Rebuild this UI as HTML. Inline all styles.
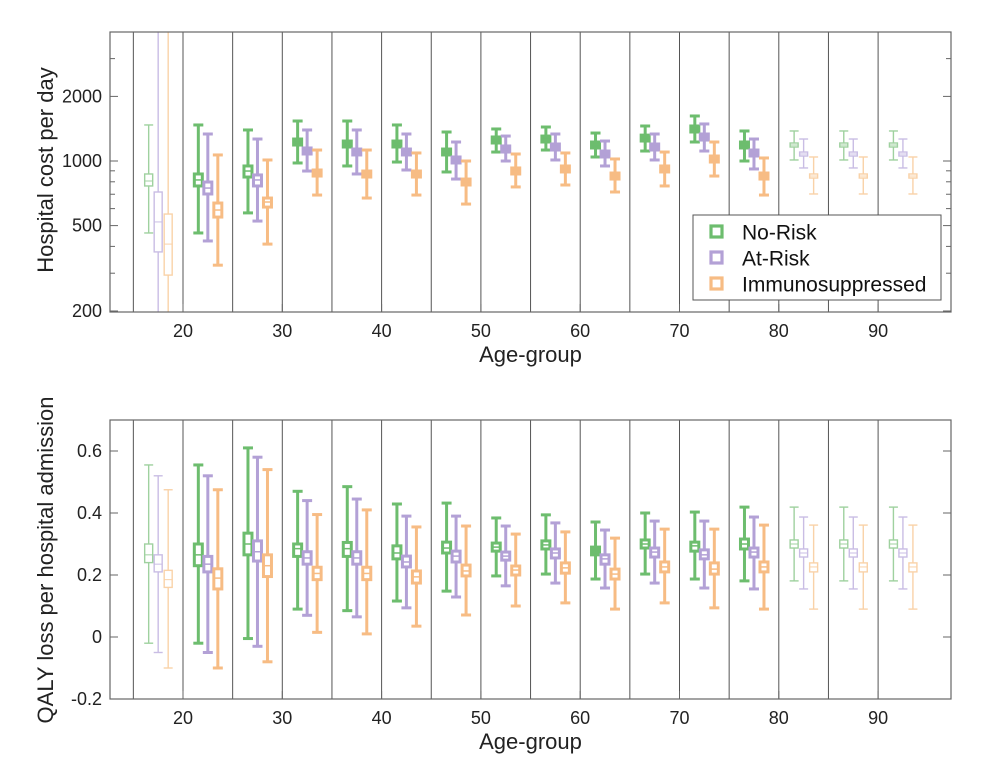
<!DOCTYPE html>
<html><head><meta charset="utf-8"><style>
html,body{margin:0;padding:0;background:#fff;}
svg{display:block;font-family:"Liberation Sans",Arial,sans-serif;}
</style></head><body>
<svg id="chart" width="991" height="779" viewBox="0 0 991 779" xmlns="http://www.w3.org/2000/svg"></svg>
<script>
// ---- data ----
const groupCenters=[17.5,22.5,27.5,32.5,37.5,42.5,47.5,52.5,57.5,62.5,67.5,72.5,77.5,82.5,87.5,92.5];
const thinGroups=[0,13,14,15];
const seriesNames=["No-Risk","At-Risk","Immunosuppressed"];
const xTicks=[20,30,40,50,60,70,80,90];
const costTicks=[200,500,1000,2000];
const qalyTicks=[-0.2,0,0.2,0.4,0.6];
// cost: [whiskerLow,q1,median,q3,whiskerHigh]
const costNoRisk=[[462,765,807,870,1472],[462,765,816,870,1472],[573,842,898,948,1395],[979,1187,1226,1266,1536],[948,1162,1200,1239,1536],[989,1162,1200,1239,1472],[889,1067,1101,1137,1365],[1101,1213,1252,1294,1410],[1125,1226,1266,1307,1440],[1044,1150,1187,1226,1350],[1113,1239,1280,1320,1456],[1226,1365,1410,1456,1621],[1000,1150,1187,1226,1380],[1011,1162,1187,1213,1380],[1011,1162,1187,1213,1380],[1011,1162,1187,1213,1380]];
const costAtRisk=[[150,377,520,717,5000],[424,702,748,798,1336],[525,765,816,861,1266],[898,1078,1113,1150,1395],[870,1067,1101,1137,1395],[908,1067,1101,1137,1336],[824,979,1011,1044,1226],[1000,1101,1137,1175,1307],[1011,1125,1162,1200,1336],[948,1044,1078,1113,1239],[1011,1125,1162,1200,1336],[1113,1252,1294,1336,1488],[918,1055,1090,1125,1266],[928,1055,1078,1101,1266],[928,1055,1078,1101,1266],[928,1055,1078,1101,1266]];
const costImmuno=[[150,294,410,566,5000],[327,548,591,637,1067],[410,610,644,672,1011],[694,851,879,908,1125],[672,842,870,898,1125],[694,842,870,898,1090],[630,773,798,824,1000],[757,870,898,928,1078],[773,889,918,948,1090],[717,824,851,879,1022],[765,889,918,948,1101],[851,989,1022,1055,1226],[694,824,851,879,1033],[702,833,851,870,1044],[702,833,851,870,1044],[702,833,851,870,1044]];
const qalyNoRisk=[[-0.02,0.24,0.265,0.30,0.555],[-0.02,0.23,0.265,0.30,0.555],[-0.005,0.265,0.30,0.335,0.61],[0.09,0.26,0.285,0.30,0.47],[0.085,0.26,0.285,0.305,0.485],[0.116,0.252,0.271,0.294,0.429],[0.148,0.271,0.287,0.306,0.432],[0.197,0.277,0.29,0.303,0.384],[0.203,0.284,0.297,0.31,0.394],[0.187,0.265,0.277,0.29,0.371],[0.203,0.287,0.30,0.313,0.40],[0.187,0.277,0.294,0.306,0.403],[0.181,0.284,0.30,0.316,0.419],[0.181,0.287,0.30,0.313,0.419],[0.181,0.287,0.30,0.313,0.419],[0.181,0.287,0.30,0.313,0.419]];
const qalyAtRisk=[[-0.05,0.21,0.235,0.265,0.52],[-0.05,0.21,0.235,0.26,0.52],[-0.03,0.245,0.275,0.31,0.58],[0.07,0.235,0.255,0.275,0.44],[0.065,0.235,0.255,0.275,0.445],[0.094,0.226,0.242,0.261,0.39],[0.129,0.242,0.261,0.277,0.39],[0.165,0.248,0.261,0.274,0.358],[0.174,0.255,0.271,0.284,0.368],[0.158,0.235,0.252,0.265,0.345],[0.174,0.258,0.274,0.287,0.374],[0.158,0.252,0.265,0.281,0.374],[0.155,0.258,0.274,0.287,0.387],[0.155,0.258,0.271,0.284,0.387],[0.155,0.258,0.271,0.284,0.387],[0.155,0.258,0.271,0.284,0.387]];
const qalyImmuno=[[-0.10,0.16,0.185,0.215,0.475],[-0.10,0.155,0.19,0.22,0.475],[-0.08,0.195,0.23,0.265,0.54],[0.015,0.185,0.205,0.225,0.395],[0.01,0.185,0.205,0.225,0.41],[0.035,0.174,0.194,0.213,0.355],[0.071,0.197,0.213,0.232,0.358],[0.10,0.20,0.216,0.229,0.332],[0.11,0.206,0.223,0.239,0.339],[0.09,0.187,0.203,0.219,0.319],[0.11,0.21,0.226,0.242,0.348],[0.094,0.203,0.219,0.239,0.348],[0.09,0.21,0.226,0.242,0.361],[0.09,0.21,0.226,0.239,0.361],[0.09,0.21,0.226,0.239,0.361],[0.09,0.21,0.226,0.239,0.361]];

const NS="http://www.w3.org/2000/svg";
const svg=document.getElementById('chart');
function el(tag,attrs,parent){const e=document.createElementNS(NS,tag);for(const k in attrs)e.setAttribute(k,attrs[k]);(parent||svg).appendChild(e);return e;}
const colors=["#6dbd6e","#b3a1d6","#f7bc84"];
const thinColors=["#9fd19f","#c9bde4","#f9d2a8"];
const offsets=[-9.5,0,10];
const X0=110,X1=951;
function xs(a){return 183+(a-20)*9.93;}

function drawPanel(cfg){
  const g=el('g',{});
  
  
  const {top,bot,ys}=cfg;
  for(let a=15;a<=90;a+=5){
    const l=el('line',{x1:xs(a),x2:xs(a),y1:top,y2:bot,stroke:'#555','stroke-width':1},g);
    
    
  }
  (cfg.minor||[]).forEach(v=>{
    el('line',{x1:X0,x2:X0+5,y1:ys(v),y2:ys(v),stroke:'#666','stroke-width':1},g);
    el('line',{x1:X1,x2:X1-5,y1:ys(v),y2:ys(v),stroke:'#666','stroke-width':1},g);
  });
  cfg.ticks.forEach(v=>{
    const y=ys(v);
    el('line',{x1:X0,x2:X0+8,y1:y,y2:y,stroke:'#666','stroke-width':1},g);
    el('line',{x1:X1,x2:X1-8,y1:y,y2:y,stroke:'#666','stroke-width':1},g);
    const t=el('text',{x:102,y:y+6,'text-anchor':'end','font-size':18,fill:'#222'},g);
    
    
    t.textContent=cfg.fmt(v);
  });
  xTicks.forEach(v=>{
    const x=xs(v);
    el('line',{x1:x,x2:x,y1:bot,y2:bot-8,stroke:'#666','stroke-width':1},g);
    const t=el('text',{x:x,y:bot+25,'text-anchor':'middle','font-size':18,fill:'#222'},g);
    
    
    t.textContent=v;
  });
  cfg.series.forEach((ser,si)=>{
    ser.forEach((d,gi)=>{
      const thin=thinGroups.includes(gi);
      const c=thin?thinColors[si]:colors[si];
      const sw=thin?1.4:3;
      const cx=xs(groupCenters[gi])+offsets[si];
      const bw=8, cw=thin?9:10;
      const bg=el('g',{stroke:c,'stroke-width':sw,fill:'none'},g);
      
      
      const clip=y=>Math.max(top,Math.min(bot,y));
      const yl=clip(ys(d[0])),yq1=ys(d[1]),ym=ys(d[2]),yq3=ys(d[3]),yh=clip(ys(d[4]));
      el('line',{x1:cx,x2:cx,y1:yq1,y2:yl},bg);
      el('line',{x1:cx,x2:cx,y1:yq3,y2:yh},bg);
      if(yl<bot-1) el('line',{x1:cx-cw/2,x2:cx+cw/2,y1:yl,y2:yl},bg);
      if(yh>top+1) el('line',{x1:cx-cw/2,x2:cx+cw/2,y1:yh,y2:yh},bg);
      const h=Math.max(yq1-yq3,1);
      el('rect',{x:cx-bw/2,y:yq3,width:bw,height:h,fill:(!thin&&h<8)?c:'#fff'},bg);
      el('line',{x1:cx-bw/2,x2:cx+bw/2,y1:ym,y2:ym,'stroke-width':thin?1:1.5},bg);
    });
  });
  const fr=el('rect',{x:X0,y:top,width:X1-X0,height:bot-top,fill:'none',stroke:'#666','stroke-width':1.2},g);
  
  
  const xt=el('text',{x:(X0+X1)/2,y:bot+50,'text-anchor':'middle','font-size':22,fill:'#222'},g);
  
  
  xt.textContent='Age-group';
  const yt=el('text',{x:0,y:0,'text-anchor':'middle','font-size':22,fill:'#222',transform:`translate(53,${cfg.ylabY}) rotate(-90)`},g);
  
  
  yt.textContent=cfg.ylab;
}
const costY=v=>161-214.6*Math.log10(v/1000);
drawPanel({name:'cost-panel',top:32,bot:312,ys:costY,ticks:costTicks,fmt:v=>String(v),
  minor:[300,400,600,700,800,900,3000],series:[costNoRisk,costAtRisk,costImmuno],ylab:'Hospital cost per day',ylabY:170});
const qalyY=v=>637-310*v;
drawPanel({name:'qaly-panel',top:420,bot:699,ys:qalyY,ticks:qalyTicks,fmt:v=>v===0?'0':v.toFixed(1),
  series:[qalyNoRisk,qalyAtRisk,qalyImmuno],ylab:'QALY loss per hospital admission',ylabY:560});
const lg=el('g',{});


el('rect',{x:693,y:215,width:248,height:85,fill:'#fff',stroke:'#555','stroke-width':1},lg);
seriesNames.forEach((n,i)=>{
  const y=232+i*26;
  const e=el('g',{},lg);
  
  
  el('rect',{x:711,y:y-6,width:11,height:11,fill:'none',stroke:colors[i],'stroke-width':3.2},e);
  const t=el('text',{x:742,y:y+7.5,'font-size':21,fill:'#111'},e);
  t.textContent=n;
});
</script>
</body></html>
